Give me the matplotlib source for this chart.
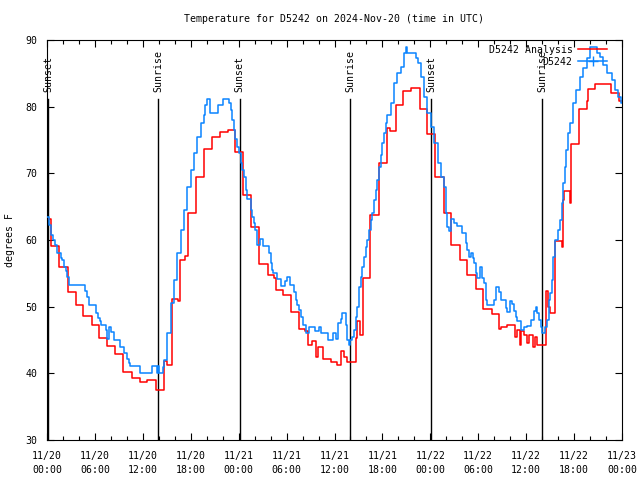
import numpy as np
import matplotlib
matplotlib.use('Agg')
import matplotlib.pyplot as plt
from matplotlib.lines import Line2D

# hours since 2024-11-20 00:00 UTC
analysis_hours = [0.0, 0.5, 1.55, 2.6, 3.6, 4.55, 5.6, 6.5, 7.55, 8.5, 9.5, 10.6, 11.65, 12.5,
                  13.6, 14.6, 14.7, 15.0, 15.6, 16.4, 16.6, 17.3, 17.7, 18.6, 19.6, 20.7, 21.7,
                  22.7, 23.6, 24.6, 25.6, 26.55, 27.7, 28.4, 28.65, 29.6, 30.5, 31.55, 32.3,
                  32.65, 33.2, 33.7, 33.95, 34.55, 35.6, 36.35, 36.8, 37.15, 37.6, 38.65, 38.8,
                  39.2, 39.6, 40.5, 41.55, 42.6, 43.0, 43.65, 44.6, 45.6, 46.65, 47.6, 48.6,
                  49.7, 50.6, 51.7, 52.6, 53.7, 54.6, 55.7, 56.6, 56.8, 57.6, 58.6, 58.8, 59.2,
                  59.4, 59.7, 60.1, 60.4, 60.8, 61.1, 61.4, 61.7, 62.5, 62.7, 63.0, 63.55, 64.45,
                  64.55, 64.7, 65.5, 65.6, 66.65, 67.6, 67.75, 68.6, 70.6, 71.6, 72.0]
analysis_temps = [63.2, 59.1, 56.0, 52.2, 50.2, 48.6, 47.2, 45.3, 44.1, 42.9, 40.2, 39.3, 38.7, 39.0,
                  37.5, 39.5, 41.8, 41.3, 51.2, 50.8, 57.0, 57.6, 64.0, 69.5, 73.6, 75.4, 76.2,
                  76.5, 73.2, 66.7, 62.0, 56.4, 54.7, 54.3, 52.5, 51.7, 49.2, 46.7, 46.3,
                  44.2, 44.9, 42.4, 44.0, 42.2, 41.7, 41.3, 43.4, 42.5, 41.7, 45.3, 47.8,
                  45.8, 54.3, 63.8, 71.5, 76.8, 76.4, 80.3, 82.4, 82.8, 79.6, 75.9, 69.4,
                  64.0, 59.2, 57.0, 54.8, 52.7, 49.7, 48.9, 46.6, 47.0, 47.3, 45.5, 46.5, 44.3,
                  46.3, 45.8, 44.5, 45.8, 44.0, 45.5, 44.2, 44.3, 52.4, 50.0, 49.0, 59.8, 59.0,
                  66.0, 67.3, 65.5, 74.4, 79.6, 80.8, 82.6, 83.4, 82.0, 80.8, 80.8]

station_hours = [0.0, 0.25, 0.45, 0.55, 0.8, 0.95, 1.3, 1.7, 1.9, 2.1, 2.35, 2.55, 2.75, 4.7, 4.95,
                 5.25, 6.15, 6.4, 6.6, 6.8, 7.35, 7.55, 7.75, 8.05, 8.4, 9.2, 9.65, 10.0, 10.25,
                 10.4, 11.7, 13.1, 13.75, 13.9, 14.05, 14.5, 14.65, 15.05, 15.5, 15.9, 16.3,
                 16.75, 17.15, 17.55, 18.0, 18.4, 18.8, 19.25, 19.6, 19.75, 20.0, 20.4, 21.4,
                 22.05, 22.8, 23.0, 23.2, 23.4, 23.6, 23.85, 24.05, 24.25, 24.45, 24.65, 24.9,
                 25.1, 25.5, 25.7, 25.9, 26.1, 26.35, 26.65, 27.05, 27.8, 28.0, 28.15, 28.3,
                 28.85, 29.25, 29.8, 30.1, 30.4, 30.9, 31.15, 31.35, 31.55, 31.75, 32.0, 32.4,
                 32.8, 33.5, 34.05, 34.35, 35.2, 35.85, 36.15, 36.5, 36.8, 37.0, 37.4, 37.6,
                 37.8, 38.0, 38.2, 38.45, 38.65, 38.85, 39.05, 39.3, 39.5, 39.7, 39.9, 40.1,
                 40.3, 40.55, 40.75, 40.95, 41.15, 41.35, 41.6, 41.8, 42.0, 42.2, 42.4, 42.6,
                 43.05, 43.45, 43.85, 44.3, 44.7, 45.0, 45.1, 46.2, 46.4, 46.8, 47.2, 47.6,
                 48.05, 48.45, 48.9, 49.3, 49.7, 49.9, 50.1, 50.35, 50.6, 50.95, 51.35, 51.95,
                 52.45, 52.6, 52.85, 53.05, 53.35, 53.45, 53.7, 53.9, 54.2, 54.5, 54.7, 54.95,
                 55.15, 55.95, 56.25, 56.6, 56.8, 57.45, 57.65, 57.95, 58.25, 58.5, 58.7, 58.9,
                 59.3, 59.75, 60.15, 60.55, 61.0, 61.2, 61.4, 61.6, 61.8, 62.0, 62.3, 62.55,
                 62.8, 63.0, 63.2, 63.4, 63.6, 64.0, 64.2, 64.45, 64.65, 64.85, 65.05, 65.3,
                 65.5, 65.9, 66.3, 66.75, 67.15, 67.6, 68.0, 68.9, 69.25, 69.65, 70.1, 70.7,
                 71.1, 71.55, 71.9, 72.0]
station_temps = [63.5, 62.3, 61.5, 60.8, 60.0, 59.2, 58.0, 57.3, 57.0, 56.0, 55.3, 54.5, 53.3, 52.3, 51.5,
                 50.2, 49.0, 48.3, 47.8, 47.3, 46.5, 45.2, 47.0, 46.2, 45.0, 44.0, 43.0, 42.2, 41.5,
                 41.1, 40.0, 41.1, 40.0, 41.1, 40.0, 41.0, 42.0, 46.0, 50.5, 54.0, 58.0,
                 61.5, 64.5, 68.0, 70.5, 73.0, 75.5, 77.5, 78.8, 80.3, 81.1, 79.1, 80.3,
                 81.1, 80.5, 79.5, 78.0, 76.5, 75.2, 74.0, 73.0, 71.5, 70.5, 69.5, 67.5,
                 66.2, 64.5, 63.5, 62.5, 61.5, 59.3, 60.1, 59.1, 58.0, 56.5, 55.5, 55.0,
                 54.1, 53.1, 53.8, 54.5, 53.3, 52.2, 51.0, 50.3, 49.5, 48.5, 47.3, 46.0,
                 47.0, 46.3, 47.0, 46.0, 45.0, 46.0, 45.2, 47.5, 48.2, 49.0, 47.2, 45.0,
                 44.3, 45.0, 45.5, 46.5, 48.5, 50.0, 53.0, 54.5, 56.0, 57.5, 59.0, 60.0,
                 61.5, 63.0, 64.0, 66.0, 67.5, 69.0, 71.0, 72.8, 74.5, 76.0, 77.5, 78.8,
                 80.5, 83.5, 85.0, 86.0, 88.0, 89.0, 88.1, 87.3, 86.5, 84.5, 81.5, 79.0,
                 77.0, 74.5, 71.5, 69.5, 68.0, 64.0, 62.0, 61.3, 63.1, 62.6, 62.1, 61.0,
                 59.5, 58.5, 57.5, 58.0, 57.3, 56.5, 55.0, 54.3, 56.0, 54.3, 53.5, 51.0,
                 50.2, 51.0, 53.0, 52.2, 51.0, 49.8, 49.2, 50.9, 50.4, 49.3, 48.5, 47.8,
                 46.5, 47.0, 47.1, 48.0, 49.3, 50.0, 49.0, 48.0, 47.0, 46.0, 47.0, 48.0,
                 51.0, 52.0, 54.0, 57.5, 60.0, 61.5, 63.0, 65.5, 68.5, 71.0, 73.5, 76.0,
                 77.5, 80.5, 82.5, 84.5, 85.8, 87.3, 89.0, 88.0, 87.5, 86.3, 85.0, 84.0,
                 82.5, 81.5, 80.5, 80.5]

sun_events = ['Sunset', 'Sunrise', 'Sunset', 'Sunrise', 'Sunset', 'Sunrise']
sun_hours = [0.12, 13.94, 24.15, 37.95, 48.12, 62.0]

xtick_hours = [0, 6, 12, 18, 24, 30, 36, 42, 48, 54, 60, 66, 72]
xtick_labels = ['11/20\n00:00', '11/20\n06:00', '11/20\n12:00', '11/20\n18:00',
                '11/21\n00:00', '11/21\n06:00', '11/21\n12:00', '11/21\n18:00',
                '11/22\n00:00', '11/22\n06:00', '11/22\n12:00', '11/22\n18:00',
                '11/23\n00:00']
ytick_values = [30, 40, 50, 60, 70, 80, 90]

plt.rcParams['font.family'] = ['DejaVu Sans Mono']
fs = 7.1
red = '#ff0000'
blue = '#0a84ff'

fig = plt.figure(figsize=(6.4, 4.8), dpi=100)
ax = fig.add_axes([47/640, 40/480, 575/640, 400/480])

# sunrise / sunset markers
for name, h in zip(sun_events, sun_hours):
    ax.plot([h, h], [30, 81.2], color='black', lw=1.0, zorder=1)
    ax.text(h, 82.2, name, rotation=90, ha='center', va='bottom', fontsize=fs)

ax.step(analysis_hours, analysis_temps, where='post', color=red, lw=1.1, zorder=2)
ax.step(station_hours, station_temps, where='post', color=blue, lw=1.1, zorder=3)

ax.set_xlim(0, 72)
ax.set_ylim(30, 90)
ax.set_xticks(xtick_hours)
ax.set_xticklabels(xtick_labels, fontsize=fs)
ax.set_xticks(np.arange(0, 73, 2), minor=True)
ax.set_yticks(ytick_values)
ax.set_yticklabels([str(v) for v in ytick_values], fontsize=fs)
for lbl in ax.get_xticklabels():
    lbl.set_linespacing(1.5)
ax.tick_params(which='both', direction='in', top=True, right=True, width=0.8)
ax.tick_params(which='major', length=5)
ax.tick_params(which='minor', length=3)
ax.tick_params(axis='x', pad=8)
ax.tick_params(axis='y', pad=7)
for s in ax.spines.values():
    s.set_linewidth(0.8)

handles = [Line2D([], [], color=red, lw=1.1),
           Line2D([], [], color=blue, lw=1.1, marker='+', markersize=7, markeredgewidth=1.0)]
ax.legend(handles, ['D5242 Analysis', 'D5242'], loc='upper right', markerfirst=False,
          frameon=False, fontsize=fs, handlelength=2.9, handletextpad=0.6,
          labelspacing=0.2, borderaxespad=0.2, borderpad=0.3,
          bbox_to_anchor=(1 - 10/575, 1))

fig.text(334.5/640, 1 - 19/480, 'Temperature for D5242 on 2024-Nov-20 (time in UTC)',
         ha='center', va='center', fontsize=fs)
fig.text(10/640, 0.5, 'degrees F', rotation=90, ha='center', va='center', fontsize=fs)

plt.savefig('out.png', dpi=100)
